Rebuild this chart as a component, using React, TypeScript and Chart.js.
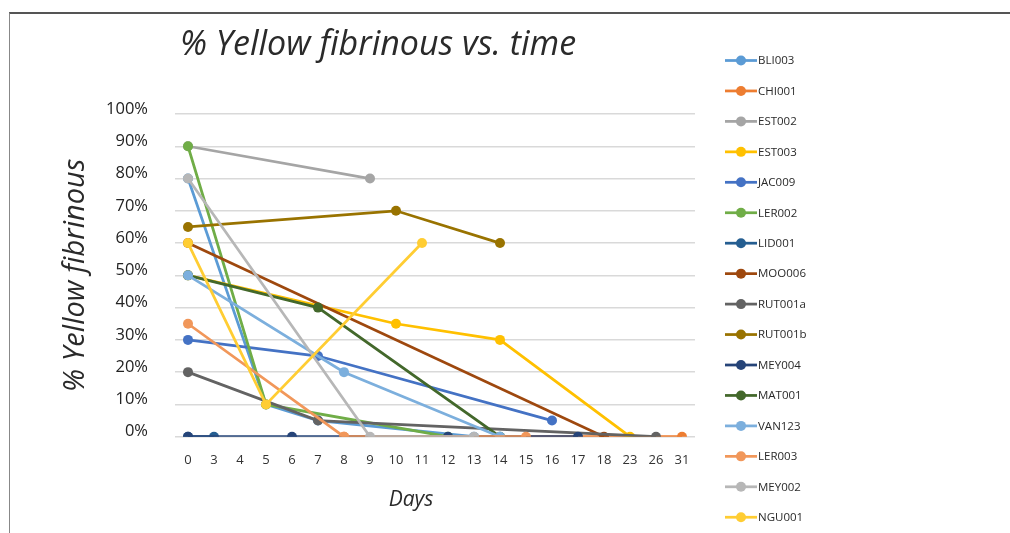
import React, { useEffect, useRef } from "react";
import { Chart, registerables } from "chart.js";

Chart.register(...registerables);

const N = null;

const CHART_TITLE = "% Yellow fibrinous vs. time";
const X_TITLE = "Days";
const Y_TITLE = "% Yellow fibrinous";

const days = ["0", "3", "4", "5", "6", "7", "8", "9", "10", "11", "12", "13", "14", "15", "16", "17", "18", "23", "26", "31"];
const yTickValues = [0, 10, 20, 30, 40, 50, 60, 70, 80, 90, 100];

const seriesNames = [
  "BLI003", "CHI001", "EST002", "EST003", "JAC009", "LER002", "LID001", "MOO006",
  "RUT001a", "RUT001b", "MEY004", "MAT001", "VAN123", "LER003", "MEY002", "NGU001",
];

const seriesColors = [
  "#5B9BD5", "#ED7D31", "#A5A5A5", "#FFC000", "#4472C4", "#70AD47", "#255E91", "#9E480E",
  "#636363", "#997300", "#264478", "#43682B", "#7CAFDD", "#F1975A", "#B7B7B7", "#FFCD33",
];

//                 0   3   4   5   6   7   8   9   10  11  12  13  14  15  16  17  18  23  26  31
const BLI003 =   [80, N,  N,  10, N,  5,  N,  N,  N,  N,  N,  0,  N,  N,  N,  N,  N,  N,  N,  N];
const CHI001 =   [N,  N,  N,  N,  N,  N,  0,  N,  N,  N,  N,  N,  N,  N,  N,  N,  N,  N,  N,  0];
const EST002 =   [90, N,  N,  N,  N,  N,  N,  80, N,  N,  N,  N,  N,  N,  N,  N,  N,  N,  N,  N];
const EST003 =   [50, N,  N,  N,  N,  N,  N,  N,  35, N,  N,  N,  30, N,  N,  N,  N,  0,  N,  N];
const JAC009 =   [30, N,  N,  N,  N,  25, N,  N,  N,  N,  N,  N,  N,  N,  5,  N,  N,  N,  N,  N];
const LER002 =   [90, N,  N,  10, N,  N,  N,  N,  N,  N,  0,  N,  N,  N,  N,  N,  N,  N,  N,  N];
const LID001 =   [0,  0,  N,  N,  N,  N,  N,  N,  N,  N,  N,  N,  N,  N,  N,  N,  N,  N,  N,  N];
const MOO006 =   [60, N,  N,  N,  N,  N,  N,  N,  N,  N,  N,  N,  N,  N,  N,  N,  0,  N,  N,  N];
const RUT001a =  [20, N,  N,  N,  N,  5,  N,  N,  N,  N,  N,  N,  N,  N,  N,  N,  N,  N,  0,  N];
const RUT001b =  [65, N,  N,  N,  N,  N,  N,  N,  70, N,  N,  N,  60, N,  N,  N,  N,  N,  N,  N];
const MEY004 =   [0,  N,  N,  N,  0,  N,  N,  N,  N,  N,  0,  N,  N,  N,  N,  0,  N,  N,  N,  N];
const MAT001 =   [50, N,  N,  N,  N,  40, N,  N,  N,  N,  N,  N,  0,  N,  N,  N,  N,  N,  N,  N];
const VAN123 =   [50, N,  N,  N,  N,  N,  20, N,  N,  N,  N,  N,  0,  N,  N,  N,  N,  N,  N,  N];
const LER003 =   [35, N,  N,  N,  N,  N,  0,  N,  N,  N,  N,  N,  N,  0,  N,  N,  N,  N,  N,  N];
const MEY002 =   [80, N,  N,  N,  N,  N,  N,  0,  N,  N,  N,  0,  N,  N,  N,  N,  N,  N,  N,  N];
const NGU001 =   [60, N,  N,  10, N,  N,  N,  N,  N,  60, N,  N,  N,  N,  N,  N,  N,  N,  N,  N];

const seriesValues = [
  BLI003, CHI001, EST002, EST003, JAC009, LER002, LID001, MOO006,
  RUT001a, RUT001b, MEY004, MAT001, VAN123, LER003, MEY002, NGU001,
];

const overlayPlugin = {
  id: "overlayText",
  afterDraw(chart: any) {
    const ctx = chart.ctx;
    const area = chart.chartArea;
    ctx.save();
    ctx.fillStyle = "#2a2a2a";
    ctx.textAlign = "center";
    ctx.textBaseline = "middle";
    ctx.font = 'italic 34px "Open Sans"';
    ctx.fillText(CHART_TITLE, 368, 31);
    ctx.font = 'italic 21px "Open Sans"';
    ctx.fillText(X_TITLE, 401, 486);

    const lx = area.right + 30;
    chart.data.datasets.forEach((ds: any, i: number) => {
      const y = 46.5 + i * 30.45;
      ctx.strokeStyle = ds.borderColor;
      ctx.lineWidth = 2.75;
      ctx.beginPath();
      ctx.moveTo(lx, y);
      ctx.lineTo(lx + 32, y);
      ctx.stroke();
      ctx.fillStyle = ds.borderColor;
      ctx.beginPath();
      ctx.arc(lx + 16, y, 5, 0, Math.PI * 2);
      ctx.fill();
      ctx.fillStyle = "#2a2a2a";
      ctx.textAlign = "left";
      ctx.font = '11.5px "Open Sans"';
      ctx.fillText(ds.label, lx + 33, y + 0.5);
    });
    ctx.restore();
  },
};

export default function App() {
  const canvasRef = useRef<HTMLCanvasElement | null>(null);

  useEffect(() => {
    if (!canvasRef.current) return;
    const n = seriesNames.length;
    const chart = new Chart(canvasRef.current, {
      type: "line",
      data: {
        labels: days,
        datasets: seriesNames.map((name, i) => ({
          label: name,
          data: seriesValues[i],
          borderColor: seriesColors[i],
          backgroundColor: seriesColors[i],
          pointBackgroundColor: seriesColors[i],
          pointBorderColor: seriesColors[i],
          borderWidth: 2.75,
          pointRadius: 5,
          pointBorderWidth: 0,
          spanGaps: true,
          tension: 0,
          fill: false,
          order: n - i,
        })),
      },
      options: {
        responsive: false,
        animation: false,
        layout: { padding: { top: 100, right: 315, left: 0, bottom: 0 } },
        plugins: {
          legend: { display: false },
          title: { display: false },
          tooltip: { enabled: false },
        },
        scales: {
          x: {
            type: "category",
            offset: true,
            grid: { display: false },
            border: { display: false },
            ticks: {
              autoSkip: false,
              maxRotation: 0,
              padding: 8,
              color: "#333",
              font: { family: "Open Sans", size: 13 },
            },
            afterFit: (scale: any) => {
              scale.height = 96.3;
            },
          },
          y: {
            min: 0,
            max: 100,
            afterBuildTicks: (scale: any) => {
              scale.ticks = yTickValues.map((v) => ({ value: v }));
            },
            grid: { color: "#d9d9d9", lineWidth: 1.5, drawTicks: false },
            border: { display: false },
            ticks: {
              padding: 27,
              labelOffset: -5,
              color: "#222",
              font: { family: "Open Sans", size: 16.5 },
              callback: (v: any) => `${v}%`,
            },
            title: {
              display: true,
              text: Y_TITLE,
              color: "#2a2a2a",
              font: { family: "Open Sans", size: 29, style: "italic" },
              padding: { top: 48, bottom: 0 },
            },
            afterFit: (scale: any) => {
              scale.width = 165;
            },
          },
        },
      },
      plugins: [overlayPlugin],
    });
    return () => chart.destroy();
  }, []);

  return (
    <div style={{ position: "fixed", inset: 0, overflow: "hidden", background: "#fff" }}>
      <div
        style={{
          position: "absolute",
          left: 9,
          top: 12,
          width: 1010,
          height: 530,
          borderTop: "2px solid #555",
          borderLeft: "1px solid #888",
        }}
      />
      <canvas
        ref={canvasRef}
        width={1000}
        height={519}
        style={{ position: "absolute", left: 10, top: 14, width: 1000, height: 519 }}
      />
    </div>
  );
}
